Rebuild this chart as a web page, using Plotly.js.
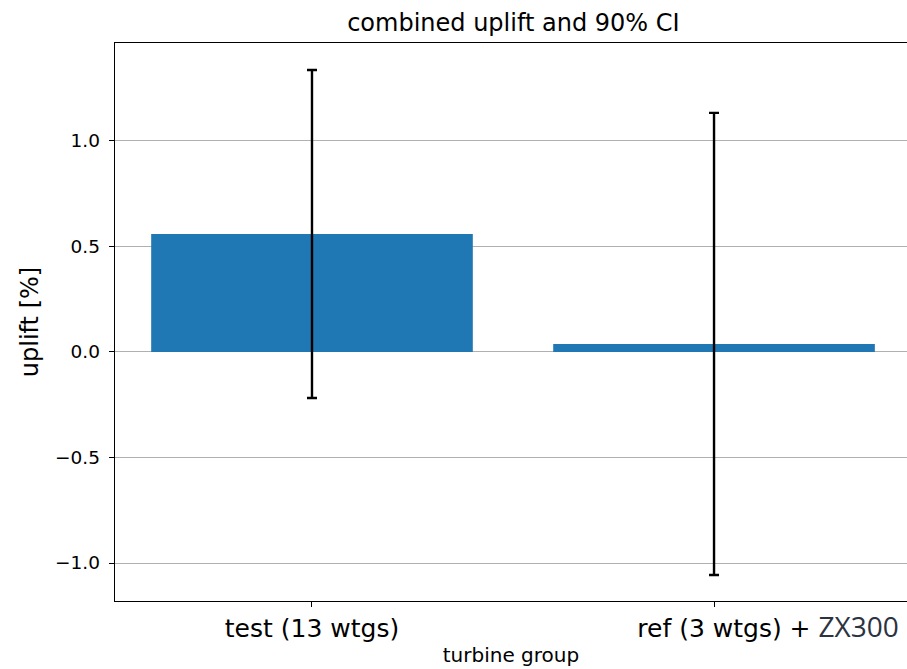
<!DOCTYPE html>
<html>
<head>
<meta charset="utf-8">
<script src="https://cdn.plot.ly/plotly-3.0.1.min.js"></script>
<style>html,body{margin:0;padding:0;overflow:hidden;background:#fff}</style>
</head>
<body>
<div id="chart" style="width:907px;height:669px"></div>
<script>
const categories = ["test (13 wtgs)", "ref (3 wtgs) + ZX300"];
const tickLabelTest = "test (13 wtgs)";
const tickLabelRef = "ref (3 wtgs) + <span style=\"font-family:'Open Sans';font-size:28px;color:#2b3340\">ZX300</span>";
const uplift = [0.559, 0.038];
const ciHalfWidth = [0.777, 1.095];
const yTicks = [-1.0, -0.5, 0.0, 0.5, 1.0];
const yTickText = ["\u22121.0", "\u22120.5", "0.0", "0.5", "1.0"];

const trace = {
  type: 'bar',
  x: [0, 1],
  y: uplift,
  width: 0.8,
  marker: {color: '#1f77b4'},
  error_y: {type: 'data', array: ciHalfWidth, visible: true, color: '#000', thickness: 2.4, width: 5},
  hoverinfo: 'y'
};
// invisible helper trace so the second x axis is drawn
const helper = {type: 'scatter', mode: 'none', x: [1], y: [0], xaxis: 'x2', hoverinfo: 'skip', showlegend: false};

const layout = {
  width: 907, height: 669,
  margin: {l: 115, r: 0, t: 43, b: 68},
  paper_bgcolor: '#fff', plot_bgcolor: '#fff',
  font: {family: 'DejaVu Sans', color: '#000'},
  title: {text: 'combined uplift and 90% CI', font: {size: 24, color: '#000'}, x: 0.566, xanchor: 'center', y: 0.966, yanchor: 'middle'},
  showlegend: false,
  xaxis: {
    range: [-0.49, 1.48],
    tickvals: [0, 1], ticktext: [tickLabelTest, ''],
    tickfont: {size: 25, color: '#000'},
    showgrid: false, zeroline: false,
    showline: true, mirror: true, linecolor: '#000', linewidth: 1.3,
    ticks: 'outside', ticklen: 5, tickcolor: '#000', tickwidth: 1,
    title: {text: 'turbine group', font: {size: 20, color: '#000'}, standoff: 5}
  },
  xaxis2: {
    overlaying: 'x', side: 'bottom', anchor: 'y',
    range: [-0.49, 1.48],
    tickvals: [1], ticktext: [tickLabelRef],
    tickfont: {size: 25, color: '#000'},
    ticklabelshift: 54,
    showgrid: false, zeroline: false, showline: false,
    ticks: 'outside', ticklen: 5, tickcolor: 'rgba(0,0,0,0)', tickwidth: 1
  },
  yaxis: {
    range: [-1.18, 1.464],
    tickvals: yTicks, ticktext: yTickText,
    tickfont: {size: 18.5, color: '#000'},
    showgrid: true, gridcolor: '#b0b0b0', gridwidth: 1,
    zeroline: false,
    showline: true, linecolor: '#000', linewidth: 1.3,
    ticks: 'outside', ticklen: 5, tickcolor: '#000', tickwidth: 1,
    ticklabelstandoff: 5,
    title: {text: 'uplift [%]', font: {size: 24, color: '#000'}, standoff: 9}
  }
};

Plotly.newPlot('chart', [trace, helper], layout, {displayModeBar: false, staticPlot: true});
</script>
</body>
</html>
